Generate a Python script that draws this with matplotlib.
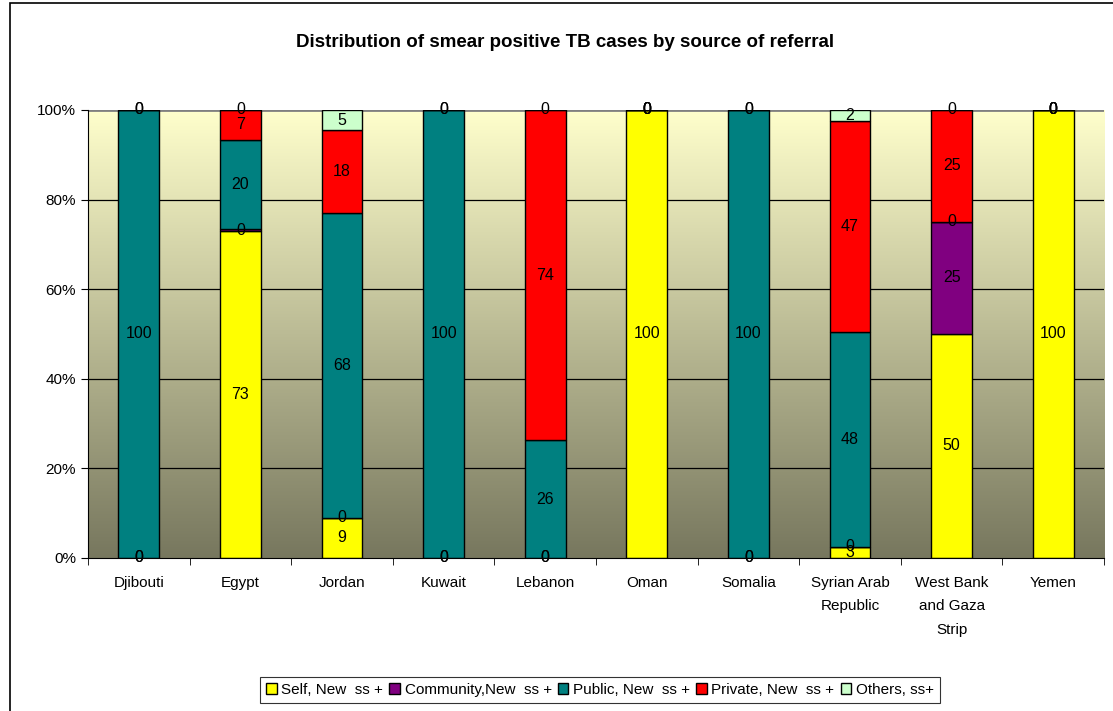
import numpy as np
import matplotlib.pyplot as plt
from matplotlib.patches import Rectangle
from matplotlib.colors import LinearSegmentedColormap

countries = ['Djibouti', 'Egypt', 'Jordan', 'Kuwait', 'Lebanon', 'Oman',
             'Somalia', 'Syrian Arab\nRepublic', 'West Bank\nand Gaza\nStrip', 'Yemen']
self_new = [0, 73, 9, 0, 0, 100, 0, 2.5, 50, 100]
community = [0, 0.4, 0, 0, 0, 0, 0, 0, 25, 0]
public = [100, 19.9, 68, 100, 26.3, 0, 100, 48, 0, 0]
private = [0, 6.7, 18.5, 0, 73.7, 0, 0, 47, 25, 0]
others = [0, 0, 4.5, 0, 0, 0, 0, 2.5, 0, 0]
self_lbl = [0, 73, 9, 0, 0, 100, 0, 3, 50, 100]
comm_lbl = [0, 0, 0, 0, 0, 0, 0, 0, 25, 0]
pub_lbl = [100, 20, 68, 100, 26, 0, 100, 48, 0, 0]
priv_lbl = [0, 7, 18, 0, 74, 0, 0, 47, 25, 0]
oth_lbl = [0, 0, 5, 0, 0, 0, 0, 2, 0, 0]

series = [
    ('Self, New  ss +', self_new, self_lbl, '#FFFF00'),
    ('Community,New  ss +', community, comm_lbl, '#800080'),
    ('Public, New  ss +', public, pub_lbl, '#008080'),
    ('Private, New  ss +', private, priv_lbl, '#FF0000'),
    ('Others, ss+', others, oth_lbl, '#CCFFCC'),
]

plt.rcParams['font.family'] = ['Liberation Sans', 'DejaVu Sans']

fig = plt.figure(figsize=(11.13, 7.11), dpi=100)
ax = fig.add_axes([0.079, 0.2152, 0.913, 0.6301])

# outer chart border
fig.patches.append(Rectangle((0.009, -0.01), 1.0, 1.006, transform=fig.transFigure,
                             fill=False, edgecolor='black', lw=1.2))

x = np.arange(len(countries))
ax.set_xlim(-0.5, len(countries) - 0.5)
ax.set_ylim(0, 100)

# gradient background
cmap = LinearSegmentedColormap.from_list('bg', ['#77775E', '#FFFFCC'])
grad = np.linspace(0, 1, 256).reshape(-1, 1)
ax.imshow(grad, cmap=cmap, aspect='auto', origin='lower',
          extent=[-0.5, len(countries) - 0.5, 0, 100], zorder=0)

for yv in [20, 40, 60, 80]:
    ax.axhline(yv, color='black', lw=0.9, zorder=1)
ax.axhline(100, color='#808080', lw=2, zorder=1)

bottom = np.zeros(len(countries))
handles = []
for name, vals, lbls, col in series:
    vals = np.array(vals, dtype=float)
    b = ax.bar(x, vals, 0.4, bottom=bottom, color=col, edgecolor='black',
               lw=1, label=name, zorder=2)
    handles.append(b)
    for i in range(len(countries)):
        ax.text(x[i], bottom[i] + vals[i] / 2, str(lbls[i]), ha='center',
                va='center', fontsize=11.5, zorder=3)
    bottom += vals

ax.set_yticks([0, 20, 40, 60, 80, 100])
ax.set_yticklabels(['0%', '20%', '40%', '60%', '80%', '100%'], fontsize=11)
ax.set_xticks(x)
ax.set_xticklabels(countries, fontsize=11, linespacing=1.85)
ax.set_xticks(np.arange(-0.5, len(countries)), minor=True)
ax.tick_params(axis='x', which='major', length=0, pad=13)
ax.tick_params(axis='x', which='minor', length=5, direction='out')
ax.tick_params(axis='y', length=5, direction='out')
ax.spines['top'].set_visible(False)
ax.spines['right'].set_visible(False)

fig.text(0.508, 0.94, 'Distribution of smear positive TB cases by source of referral',
         ha='center', va='center', fontsize=13.5, fontweight='bold')

leg = fig.legend(handles=handles, loc='center', bbox_to_anchor=(0.539, 0.03), ncol=5,
                 fontsize=11, frameon=True, fancybox=False, edgecolor='black',
                 handlelength=0.7, handleheight=0.7, handletextpad=0.3,
                 columnspacing=0.4, borderpad=0.4)
leg.get_frame().set_linewidth(0.8)

fig.savefig('out.png', dpi=100)
